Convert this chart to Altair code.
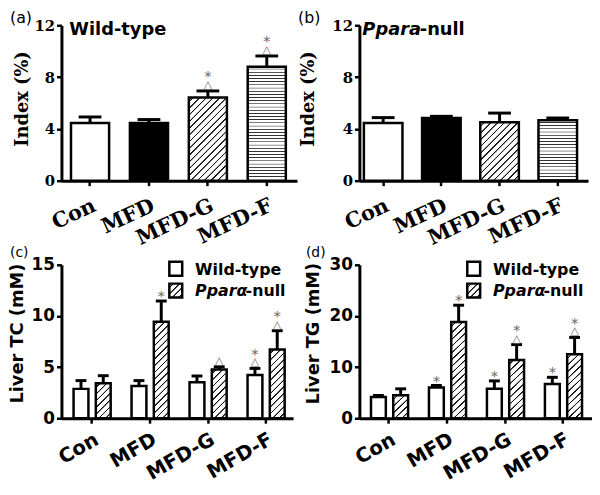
import math
import altair as alt
import pandas as pd

cats = ["Con", "MFD", "MFD-G", "MFD-F"]

# (a) Wild-type, Index (%)
a_val = [4.46, 4.46, 6.42, 8.79]
a_err = [4.92, 4.72, 6.93, 9.63]
a_star = [0, 0, 1, 1]
a_tri = [0, 0, 1, 1]

# (b) Ppara-null, Index (%)
b_val = [4.46, 4.84, 4.51, 4.66]
b_err = [4.87, 4.97, 5.22, 4.84]
b_star = [0, 0, 0, 0]
b_tri = [0, 0, 0, 0]

# (c) Liver TC (mM)
c_wt = [2.87, 3.16, 3.52, 4.22]
c_wt_err = [3.68, 3.68, 4.13, 4.87]
c_ko = [3.42, 9.43, 4.77, 6.73]
c_ko_err = [4.16, 11.46, 5.03, 8.56]
c_wt_star = [0, 0, 0, 1]
c_wt_tri = [0, 0, 0, 1]
c_ko_star = [0, 1, 0, 1]
c_ko_tri = [0, 0, 1, 1]

# (d) Liver TG (mM)
d_wt = [4.15, 6.0, 5.75, 6.7]
d_wt_err = [4.45, 6.4, 7.3, 8.0]
d_ko = [4.5, 18.8, 11.4, 12.5]
d_ko_err = [5.75, 22.1, 14.4, 15.8]
d_wt_star = [0, 1, 1, 1]
d_wt_tri = [0, 0, 0, 0]
d_ko_star = [0, 1, 1, 1]
d_ko_tri = [0, 0, 1, 1]

SERIF = "DejaVu Serif"
SANS = "DejaVu Sans"
ANN = "#666666"


def band(W, n, pi, po):
    step = W / (n - pi + 2 * po)
    return step, step * (1 - pi)


def _stripes(D, period, lw, line, bg="white", start=None):
    stops = [{"offset": 0, "color": bg}]
    aa = 0.35
    p = period * 0.5 if start is None else start
    while p + lw < D - 0.5:
        for off, col in [(p, bg), (p + aa, line), (p + lw - aa, line), (p + lw, bg)]:
            stops.append({"offset": round(off / D, 5), "color": col})
        p += period
    stops.append({"offset": 1, "color": bg})
    return stops


def diag_gradient(w, h, period=4.8, lw=1.4, line="#111111"):
    k = (w + h) / (w * w + h * h)
    D = (w + h) / math.sqrt(2)
    return {"gradient": "linear", "x1": 0, "y1": 0,
            "x2": round(w * k, 5), "y2": round(h * k, 5),
            "stops": _stripes(D, period, lw, line)}


def horiz_gradient(h, period=3.2, lw=1.2, line="#333333"):
    return {"gradient": "linear", "x1": 0, "y1": 0, "x2": 0, "y2": 1,
            "stops": _stripes(h, period, lw, line)}


def x_axis(font, size, angle, pad):
    return alt.Axis(title=None, labelAngle=angle, labelAlign="right", labelBaseline="top",
                    labelFont=font, labelFontWeight="bold", labelFontSize=size,
                    labelColor="black", labelPadding=pad, labelOverlap=False,
                    domainColor="black", domainWidth=3, tickColor="black",
                    tickWidth=2.5, tickSize=5, grid=False)


def y_axis(font, lsize, tsize, ticks, title, tx, ty):
    return alt.Axis(values=ticks, title=title, grid=False, domainColor="black",
                    domainWidth=3, tickColor="black", tickWidth=2.5, tickSize=5,
                    labelFont=font, labelFontWeight="bold", labelFontSize=lsize,
                    labelColor="black", labelPadding=2,
                    titleFont=font, titleFontWeight="bold", titleFontSize=tsize,
                    titleColor="black", titleX=tx, titleY=ty, titleAngle=270,
                    titleAlign="center", titleBaseline="bottom")


one = pd.DataFrame({"k": [0]})


def label(text, x, y, size, weight="normal", style="normal", baseline="alphabetic"):
    return alt.Chart(one).mark_text(
        text=text, align="left", baseline=baseline, font=SANS, fontSize=size,
        fontWeight=weight, fontStyle=style, color="black"
    ).encode(x=alt.value(x), y=alt.value(y))


def annotations(base, yenc):
    tri = base.transform_filter("datum.tri == 1").mark_text(
        text="\u25b3", baseline="alphabetic", fontSize=11, font=SANS, color=ANN, dy=-3
    ).encode(y=yenc)
    star_t = base.transform_filter("datum.star == 1 && datum.tri == 1").mark_text(
        text="*", baseline="alphabetic", fontSize=15, font=SANS, color=ANN, dy=-10
    ).encode(y=yenc)
    star_n = base.transform_filter("datum.star == 1 && datum.tri == 0").mark_text(
        text="*", baseline="alphabetic", fontSize=15, font=SANS, color=ANN, dy=0
    ).encode(y=yenc)
    return [tri, star_t, star_n]


def single_panel(val, err, star, tri, W, H, ymax, yticks, pi, po, align,
                 tx, ty, headers):
    df = pd.DataFrame({"cat": cats, "val": val, "err": err, "star": star, "tri": tri})
    step, bw = band(W, 4, pi, po)
    xs = alt.Scale(domain=cats, paddingInner=pi, paddingOuter=po, align=align)
    ys = alt.Scale(domain=[0, ymax], nice=False, zero=True)
    xa = x_axis(SERIF, 21, 335, 9)
    ya = y_axis(SERIF, 15, 18, yticks, "Index (%)", tx, ty)
    xenc = alt.X("cat:N", sort=cats, scale=xs, axis=xa)
    yv = alt.Y("val:Q", scale=ys, axis=ya)
    ye = alt.Y("err:Q", scale=ys, axis=ya)
    base = alt.Chart(df).encode(x=xenc)
    layers = []
    for i, c in enumerate(cats):
        h = val[i] / ymax * H
        fill = ["white", "black", diag_gradient(bw, h), horiz_gradient(h)][i]
        layers.append(base.transform_filter(alt.datum.cat == c).mark_bar(
            fill=fill, stroke="black", strokeWidth=2.5).encode(y=yv))
    layers.append(base.mark_rule(color="black", strokeWidth=3).encode(y=yv, y2=alt.Y2("err:Q")))
    layers.append(base.mark_tick(orient="horizontal", size=23, thickness=3,
                                 color="black", opacity=1).encode(y=ye))
    layers += annotations(base, ye)
    layers += headers
    return alt.layer(*layers).properties(width=W, height=H)


def grouped_panel(wt, wt_err, ko, ko_err, wt_star, wt_tri, ko_star, ko_tri,
                  W, H, ymax, yticks, pi, po, align, opi, title, tx, ty, headers):
    rows = []
    for i, c in enumerate(cats):
        rows.append(dict(cat=c, g="WT", val=wt[i], err=wt_err[i], star=wt_star[i], tri=wt_tri[i]))
        rows.append(dict(cat=c, g="KO", val=ko[i], err=ko_err[i], star=ko_star[i], tri=ko_tri[i]))
    df = pd.DataFrame(rows)
    step, bw = band(W, 4, pi, po)
    ostep, obw = band(bw, 2, opi, 0)
    xs = alt.Scale(domain=cats, paddingInner=pi, paddingOuter=po, align=align)
    ys = alt.Scale(domain=[0, ymax], nice=False, zero=True)
    xa = x_axis(SANS, 20, 330, 6)
    ya = y_axis(SANS, 17, 18, yticks, title, tx, ty)
    xenc = alt.X("cat:N", sort=cats, scale=xs, axis=xa)
    xoff = alt.XOffset("g:N", sort=["WT", "KO"],
                       scale=alt.Scale(domain=["WT", "KO"], paddingInner=opi, paddingOuter=0))
    yv = alt.Y("val:Q", scale=ys, axis=ya)
    ye = alt.Y("err:Q", scale=ys, axis=ya)
    base = alt.Chart(df).encode(x=xenc, xOffset=xoff)
    layers = [base.transform_filter(alt.datum.g == "WT").mark_bar(
        fill="white", stroke="black", strokeWidth=2.5).encode(y=yv)]
    for i, c in enumerate(cats):
        h = ko[i] / ymax * H
        layers.append(base.transform_filter((alt.datum.g == "KO") & (alt.datum.cat == c)).mark_bar(
            fill=diag_gradient(obw, h), stroke="black", strokeWidth=2.5).encode(y=yv))
    layers.append(base.mark_rule(color="black", strokeWidth=3).encode(y=yv, y2=alt.Y2("err:Q")))
    layers.append(base.mark_tick(orient="horizontal", size=11, thickness=3,
                                 color="black", opacity=1).encode(y=ye))
    layers += annotations(base, ye)
    # legend
    layers.append(alt.Chart(one).mark_rect(fill="white", stroke="black", strokeWidth=2.5).encode(
        x=alt.value(109), x2=alt.value(122), y=alt.value(-3), y2=alt.value(11)))
    layers.append(alt.Chart(one).mark_rect(fill=diag_gradient(13, 14, period=4.5),
                                           stroke="black", strokeWidth=2.5).encode(
        x=alt.value(109), x2=alt.value(122), y=alt.value(19), y2=alt.value(33)))
    layers.append(label("Wild-type", 135, 10, 16, weight="bold"))
    layers.append(label("Ppar\u03b1", 135, 31, 16, weight="bold", style="italic"))
    layers.append(label("-null", 186, 31, 16, weight="bold"))
    layers += headers
    return alt.layer(*layers).properties(width=W, height=H)


pa = single_panel(a_val, a_err, a_star, a_tri, 238, 157, 12, [0, 4, 8, 12],
                  0.353, 0.176, 0.46, -30, 74,
                  [label("(a)", -52, -15, 16, baseline="top"),
                   label("Wild-type", 8, 10, 18, weight="bold")])
pb = single_panel(b_val, b_err, b_star, b_tri, 231, 157, 12, [0, 4, 8, 12],
                  0.337, 0.133, 0.29, -42, 74,
                  [label("(b)", -62, -15, 16, baseline="top"),
                   label("Ppara", 3, 10, 18, weight="bold", style="italic"),
                   label("-null", 61, 10, 18, weight="bold")])
pc = grouped_panel(c_wt, c_wt_err, c_ko, c_ko_err, c_wt_star, c_wt_tri, c_ko_star, c_ko_tri,
                   234, 155, 15, [0, 5, 10, 15], 0.36, 0.177, 0.59, 0.333,
                   "Liver TC (mM)", -35, 69,
                   [label("(c)", -52, -19, 14, baseline="top")])
pd_ = grouped_panel(d_wt, d_wt_err, d_ko, d_ko_err, d_wt_star, d_wt_tri, d_ko_star, d_ko_tri,
                    235, 155, 30, [0, 10, 20, 30], 0.38, 0.196, 0.51, 0.35,
                    "Liver TG (mM)", -37, 69,
                    [label("(d)", -54, -19, 14, baseline="top")])

chart = alt.concat(
    pa, pb, pc, pd_, columns=2, bounds="flush",
    spacing={"row": 85, "column": 63},
    align={"row": "all", "column": "none"},
).configure_view(stroke=None).properties(padding=0, background="white")

chart.save("out.html", embed_options={"renderer": "svg", "actions": False})
